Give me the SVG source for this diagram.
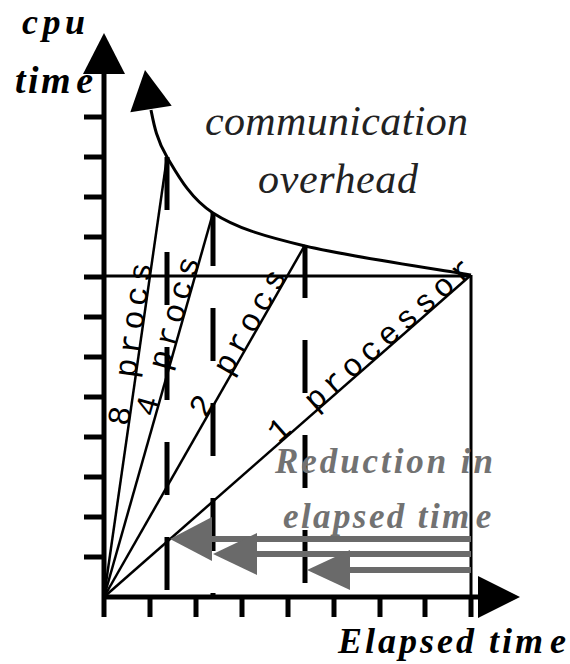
<svg xmlns="http://www.w3.org/2000/svg" width="570" height="664" viewBox="0 0 570 664">
<defs>
<style>
.ax{stroke:#000;stroke-width:5;fill:none}
.tk{stroke:#000;stroke-width:5}
.thin{stroke:#000;stroke-width:3;fill:none}
.ray{stroke:#000;stroke-width:2.5;fill:none}
.dash{stroke:#000;stroke-width:5;stroke-dasharray:53 42;fill:none}
.garr{stroke:#6a6a6a;stroke-width:6}
.gfill{fill:#6a6a6a}
.lbl{font-family:"Liberation Serif",serif;font-style:italic;font-weight:bold;fill:#000}
.glbl{font-family:"Liberation Serif",serif;font-style:italic;font-weight:bold;fill:#727272}
.note{font-family:"Liberation Serif",serif;font-style:italic;font-size:42px;fill:#222}
.mono{font-family:"Liberation Mono",monospace;font-size:32px;letter-spacing:5px;fill:#000}
</style>
</defs>
<rect width="570" height="664" fill="#fff"/>

<g id="axes">
  <line class="ax" x1="104" y1="617" x2="104" y2="70"/>
  <polygon points="104,33 83,74 125,74" fill="#000"/>
  <line class="ax" x1="102" y1="597" x2="480" y2="597"/>
  <polygon points="520,597 478,576 478,618" fill="#000"/>
  <g class="tk">
    <line x1="84" y1="117" x2="104" y2="117"/><line x1="84" y1="157" x2="104" y2="157"/>
    <line x1="84" y1="197" x2="104" y2="197"/><line x1="84" y1="237" x2="104" y2="237"/>
    <line x1="84" y1="277" x2="104" y2="277"/><line x1="84" y1="317" x2="104" y2="317"/>
    <line x1="84" y1="357" x2="104" y2="357"/><line x1="84" y1="397" x2="104" y2="397"/>
    <line x1="84" y1="437" x2="104" y2="437"/><line x1="84" y1="477" x2="104" y2="477"/>
    <line x1="84" y1="517" x2="104" y2="517"/><line x1="84" y1="557" x2="104" y2="557"/>
    <line x1="150" y1="597" x2="150" y2="617"/><line x1="196" y1="597" x2="196" y2="617"/>
    <line x1="242" y1="597" x2="242" y2="617"/><line x1="288" y1="597" x2="288" y2="617"/>
    <line x1="334" y1="597" x2="334" y2="617"/><line x1="380" y1="597" x2="380" y2="617"/>
    <line x1="425" y1="597" x2="425" y2="617"/><line x1="471" y1="597" x2="471" y2="617"/>
  </g>
  <text class="lbl" x="22" y="34" font-size="36" textLength="63" lengthAdjust="spacing">cpu</text>
  <text class="lbl" x="15" y="93" font-size="38" letter-spacing="2.5">tim<tspan dx="3">e</tspan></text>
  <text class="lbl" x="338" y="653" font-size="36" letter-spacing="3">Elapsed tim<tspan dx="4">e</tspan></text>
</g>

<g id="frame">
  <line class="thin" x1="104" y1="276" x2="471" y2="276"/>
  <line class="thin" x1="471" y1="275" x2="471" y2="597"/>
</g>

<g id="rays">
  <line class="ray" x1="104" y1="597" x2="167" y2="157"/>
  <line class="ray" x1="104" y1="597" x2="213" y2="213"/>
  <line class="ray" x1="104" y1="597" x2="305" y2="245"/>
  <line class="ray" x1="104" y1="597" x2="471" y2="275"/>
</g>

<g id="dashes">
  <line class="dash" x1="167" y1="157" x2="167" y2="597"/>
  <line class="dash" x1="213" y1="213" x2="213" y2="597"/>
  <line class="dash" x1="305" y1="245" x2="305" y2="597"/>
</g>

<g id="overhead-curve">
  <path class="thin" d="M151,110 C154,125 156.7,139.8 167,157 C177.3,174.2 190,198.2 213,213 C236,227.8 262,235.7 305,246 C348,256.3 443.3,270.2 471,275"/>
  <polygon points="145,70 130.3,112.2 171.7,105.8" fill="#000"/>
  <text class="note" x="205" y="135" textLength="263" lengthAdjust="spacing">communication</text>
  <text class="note" x="258" y="193" textLength="160" lengthAdjust="spacing">overhead</text>
</g>

<g id="ray-labels">
  <text class="mono" transform="translate(128.4,426.7) rotate(-81.85)">8 procs</text>
  <text class="mono" transform="translate(154.8,418.1) rotate(-74.15)">4 procs</text>
  <text class="mono" transform="translate(205.7,419) rotate(-60.27)">2 procs</text>
  <text class="mono" transform="translate(278.5,443.8) rotate(-41.26)" letter-spacing="6">1 processor</text>
</g>

<g id="reduction">
  <line class="garr" x1="471" y1="539" x2="205" y2="539"/>
  <polygon class="gfill" points="170,539 212,517 212,561"/>
  <line class="garr" x1="471" y1="554" x2="250" y2="554"/>
  <polygon class="gfill" points="213,554 257,533 257,575"/>
  <line class="garr" x1="471" y1="570" x2="345" y2="570"/>
  <polygon class="gfill" points="307,570 350,550 350,590"/>
  <text class="glbl" x="275" y="473" font-size="35" textLength="218" lengthAdjust="spacing">Reduction in</text>
  <text class="glbl" x="283" y="528" font-size="35" letter-spacing="2.4">elapsed tim<tspan dx="4">e</tspan></text>
</g>
</svg>
